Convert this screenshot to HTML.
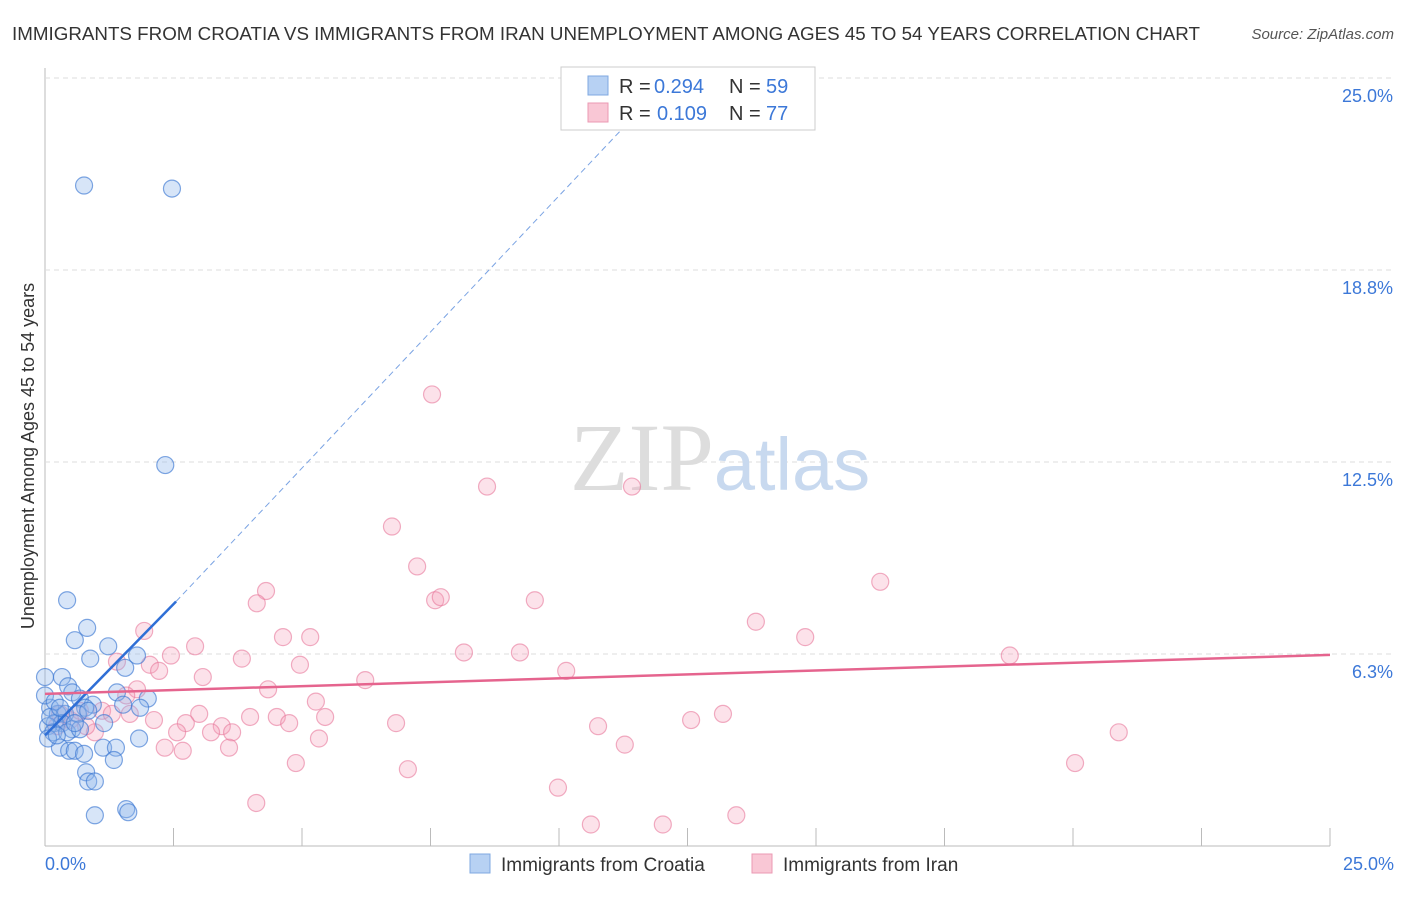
<!DOCTYPE html>
<html><head><meta charset="utf-8">
<style>
body{margin:0;background:#fff;font-family:"Liberation Sans",sans-serif;}
svg text{font-family:"Liberation Sans",sans-serif;}
</style></head>
<body>
<svg id="chart" width="1406" height="892" xmlns="http://www.w3.org/2000/svg">
<text x="12" y="40" font-size="18" fill="#333" textLength="1188" lengthAdjust="spacingAndGlyphs">IMMIGRANTS FROM CROATIA VS IMMIGRANTS FROM IRAN UNEMPLOYMENT AMONG AGES 45 TO 54 YEARS CORRELATION CHART</text>
<text x="1394" y="39" font-size="15" fill="#555" font-style="italic" text-anchor="end">Source: ZipAtlas.com</text>
<g id="grid"></g>
<text x="720" y="490" font-size="96" text-anchor="middle"><tspan fill="#ddd" font-family="Liberation Serif">ZIP</tspan><tspan fill="#c8d9ef" font-size="74">atlas</tspan></text>
<text transform="translate(34,456) rotate(-90)" font-size="18" fill="#333" text-anchor="middle">Unemployment Among Ages 45 to 54 years</text>
<g id="points"></g>
<g id="lines"></g>
<g>
<rect x="561" y="67" width="254" height="63" fill="#fff" stroke="#ccc"/>
<rect x="588" y="76" width="20" height="19" fill="#b7d1f3" stroke="#7fa8e0"/>
<rect x="588" y="103" width="20" height="19" fill="#f9c7d5" stroke="#eb9ab3"/>
<text x="619" y="93" font-size="20" fill="#333">R =</text>
<text x="654" y="93" font-size="20" fill="#3c78d8">0.294</text>
<text x="729" y="93" font-size="20" fill="#333">N =</text>
<text x="766" y="93" font-size="20" fill="#3c78d8">59</text>
<text x="619" y="120" font-size="20" fill="#333">R =</text>
<text x="657" y="120" font-size="20" fill="#3c78d8">0.109</text>
<text x="729" y="120" font-size="20" fill="#333">N =</text>
<text x="766" y="120" font-size="20" fill="#3c78d8">77</text>
</g>
<g>
<rect x="470" y="854" width="20" height="19" fill="#b7d1f3" stroke="#7fa8e0"/>
<text x="501" y="871" font-size="19" fill="#333">Immigrants from Croatia</text>
<rect x="752" y="854" width="20" height="19" fill="#f9c7d5" stroke="#eb9ab3"/>
<text x="783" y="871" font-size="19" fill="#333">Immigrants from Iran</text>
</g>
</svg>
<script>
const xTicks=[0,2.5,5,7.5,10,12.5,15,17.5,20,22.5,25];
const yTicks=[6.25,12.5,18.75,25];
const yTickLabels=["6.3%","12.5%","18.8%","25.0%"];
const croatiaX=[0.76,2.47,2.34,0.43,0.82,0.58,1.23,0.88,1.79,1.56,0.33,0,0.45,0.53,1.40,2.00,0.68,0.93,0.78,1.52,1.85,0.10,0.25,0.39,0.64,0.84,0.19,0.33,0.06,0.53,1.15,0.16,0.43,0.68,1.83,0.29,0.47,0.58,1.13,1.38,0.76,1.34,0.80,0.84,0.97,1.58,1.62,0.97,0,0.19,0.10,0.29,0.58,0.06,0.23];
const croatiaY=[21.5,21.4,12.4,8.0,7.1,6.7,6.5,6.1,6.2,5.8,5.5,5.5,5.2,5.0,5.0,4.8,4.8,4.6,4.5,4.6,4.5,4.5,4.3,4.3,4.3,4.4,4.0,4.0,3.9,3.8,4.0,3.7,3.7,3.8,3.5,3.2,3.1,3.1,3.2,3.2,3.0,2.8,2.4,2.1,2.1,1.2,1.1,1.0,4.9,4.7,4.2,4.5,4.0,3.5,3.6];
const iranX=[7.53,8.60,11.42,6.75,7.24,4.30,4.12,7.59,7.70,9.53,16.25,1.93,13.83,2.92,4.63,5.16,14.79,2.45,8.15,9.24,18.77,1.40,2.04,3.83,4.96,10.14,2.22,3.07,6.23,4.34,1.79,1.58,5.27,3.00,3.99,4.51,5.45,13.19,12.57,1.11,1.30,1.65,2.12,2.74,4.75,6.83,10.76,3.44,2.57,3.23,3.64,20.89,5.33,0.97,0.80,2.33,2.68,3.58,11.28,4.88,7.06,20.04,9.98,4.11,13.45,10.62,12.02,0.49,0.29,0.68,0.23];
const iranY=[14.7,11.7,11.7,10.4,9.1,8.3,7.9,8.0,8.1,8.0,8.6,7.0,7.3,6.5,6.8,6.8,6.8,6.2,6.3,6.3,6.2,6.0,5.9,6.1,5.9,5.7,5.7,5.5,5.4,5.1,5.1,4.9,4.7,4.3,4.2,4.2,4.2,4.3,4.1,4.4,4.3,4.3,4.1,4.0,4.0,4.0,3.9,3.9,3.7,3.7,3.7,3.7,3.5,3.7,3.9,3.2,3.1,3.2,3.3,2.7,2.5,2.7,1.9,1.4,1.0,0.7,0.7,4.1,4.3,4.4,3.9];
const croatiaTrend=[[0,3.6],[2.55,7.96],[11.6,24.0]];
const iranTrend=[[0,4.95],[25,6.22]];
const NS='http://www.w3.org/2000/svg';
const X0=45,X1=1330,Y0=846,Y1=78;
function sx(v){return X0+(X1-X0)*v/25;}
function sy(v){return Y0-(Y0-Y1)*v/25;}
function mk(tag,attrs,parent){const e=document.createElementNS(NS,tag);for(const k in attrs)e.setAttribute(k,attrs[k]);parent.appendChild(e);return e;}
const grid=document.getElementById('grid');
mk('line',{x1:X0,y1:68,x2:X0,y2:Y0,stroke:'#bbb'},grid);
mk('line',{x1:X0,y1:Y0,x2:X1,y2:Y0,stroke:'#bbb'},grid);
mk('line',{x1:X0,y1:Y1,x2:1394,y2:Y1,stroke:'#ddd','stroke-dasharray':'5,4'},grid);
yTicks.forEach((t,i)=>{
 if(t<25){const l=mk('line',{x1:X0,y1:sy(t),x2:1394,y2:sy(t),stroke:'#ddd','stroke-dasharray':'5,4'},grid);
 
 }
 const tx=mk('text',{x:1393,y:sy(t)+24,'font-size':18,fill:'#3c78d8','text-anchor':'end'},grid);
 tx.textContent=yTickLabels[i];
 
 
});
xTicks.forEach(t=>{const l=mk('line',{x1:sx(t),y1:Y0,x2:sx(t),y2:Y0-18,stroke:'#bbb'},grid);
 
 });
const xl0=mk('text',{x:45,y:870,'font-size':18,fill:'#3c78d8'},grid);xl0.textContent='0.0%';


const xl1=mk('text',{x:1394,y:870,'font-size':18,fill:'#3c78d8','text-anchor':'end'},grid);xl1.textContent='25.0%';


const pts=document.getElementById('points');
iranX.forEach((x,i)=>{const c=mk('circle',{cx:sx(x),cy:sy(iranY[i]),r:8.5,fill:'rgba(244,160,186,0.3)',stroke:'rgba(232,120,155,0.6)','stroke-width':1.2},pts);
 
 });
croatiaX.forEach((x,i)=>{const c=mk('circle',{cx:sx(x),cy:sy(croatiaY[i]),r:8.5,fill:'rgba(140,180,235,0.35)',stroke:'rgba(60,120,210,0.65)','stroke-width':1.2},pts);
 
 });
const ln=document.getElementById('lines');
const a=mk('line',{x1:sx(croatiaTrend[0][0]),y1:sy(croatiaTrend[0][1]),x2:sx(croatiaTrend[1][0]),y2:sy(croatiaTrend[1][1]),stroke:'#2f6fd6','stroke-width':2.5},ln);


const b=mk('line',{x1:sx(croatiaTrend[1][0]),y1:sy(croatiaTrend[1][1]),x2:sx(croatiaTrend[2][0]),y2:sy(croatiaTrend[2][1]),stroke:'#7aa3e3','stroke-width':1,'stroke-dasharray':'6,4'},ln);


const c=mk('line',{x1:sx(iranTrend[0][0]),y1:sy(iranTrend[0][1]),x2:sx(iranTrend[1][0]),y2:sy(iranTrend[1][1]),stroke:'#e5648e','stroke-width':2.5},ln);


</script>
</body></html>
